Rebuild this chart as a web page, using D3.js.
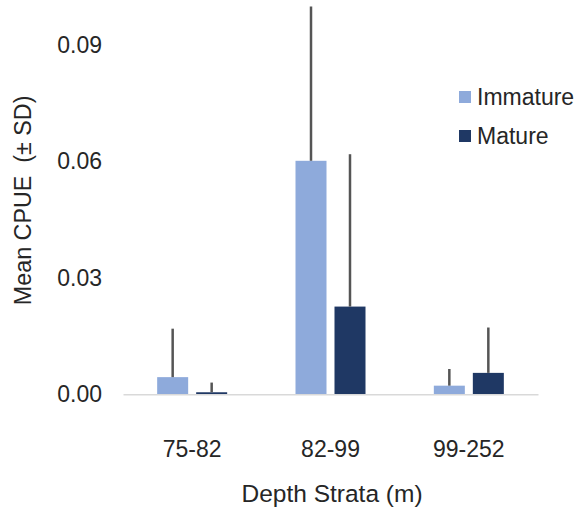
<!DOCTYPE html>
<html>
<head>
<meta charset="utf-8">
<script src="https://cdn.jsdelivr.net/npm/d3@7"></script>
<style>
  body { margin: 0; background: #fff; }
  svg text { font-family: "Liberation Sans", Arial, sans-serif; fill: #262626; }
</style>
</head>
<body>
<svg id="chart" width="577" height="507"></svg>
<script>
// depth strata and the two maturity groups
var strata = ["75-82", "82-99", "99-252"];
var series = ["Immature", "Mature"];
var immatureMean = [0.0044, 0.0602, 0.0022];
var immatureSD = [0.0125, 0.045, 0.0043];
var matureMean = [0.0005, 0.0226, 0.0055];
var matureSD = [0.0025, 0.0393, 0.0117];
var yTicks = [0, 0.03, 0.06, 0.09];

var colors = {Immature: "#8eaadb", Mature: "#1f3864"};

var rows = [];
strata.forEach(function(s, i){
    rows.push({stratum: s, series: "Immature", mean: immatureMean[i], sd: immatureSD[i]});
    rows.push({stratum: s, series: "Mature", mean: matureMean[i], sd: matureSD[i]});
});

var svg = d3.select("#chart");
// note: "top" is taken by window.top, so plot edges get their own names
var plotLeft = 123, plotRight = 538, plotTop = 6.5, plotBottom = 394.2;
var fontSize = 23;

var x = d3.scaleBand().domain(strata).range([plotLeft, plotRight])
    .paddingInner(0.494).paddingOuter(0.247);
var xSub = d3.scaleBand().domain(series).range([0, x.bandwidth()])
    .paddingInner(0.205);
var y = d3.scaleLinear().domain([0, 0.1]).range([plotBottom, plotTop]).clamp(true);

// y tick labels (no axis line)
var yAxis = svg.append("g")
    .attr("transform", "translate(" + plotLeft + ",0)")
    .call(d3.axisLeft(y).tickValues(yTicks).tickFormat(d3.format(".2f"))
        .tickSize(0).tickPadding(21));
yAxis.select(".domain").remove();
yAxis.selectAll("text").style("font-size", fontSize + "px");

// bars
svg.append("g").selectAll("rect").data(rows).enter().append("rect")
    .attr("x", function(d){ return x(d.stratum) + xSub(d.series); })
    .attr("width", xSub.bandwidth())
    .attr("y", function(d){ return y(d.mean); })
    .attr("height", function(d){ return y(0) - y(d.mean); })
    .attr("fill", function(d){ return colors[d.series]; });

// upper error bars only
svg.append("g").selectAll("line").data(rows).enter().append("line")
    .attr("x1", function(d){ return x(d.stratum) + xSub(d.series) + xSub.bandwidth()/2; })
    .attr("x2", function(d){ return x(d.stratum) + xSub(d.series) + xSub.bandwidth()/2; })
    .attr("y1", function(d){ return y(d.mean); })
    .attr("y2", function(d){ return y(d.mean + d.sd); })
    .attr("stroke", "#555555")
    .attr("stroke-width", 2.5);

// x axis
var xAxis = svg.append("g")
    .attr("transform", "translate(0," + plotBottom + ")")
    .call(d3.axisBottom(x).tickSize(0).tickPadding(46));
xAxis.select(".domain").attr("stroke", "#d9d9d9").attr("stroke-width", 1.5);
xAxis.selectAll("text").style("font-size", fontSize + "px");

// axis titles
svg.append("text")
    .attr("x", 332)
    .attr("y", 502)
    .attr("text-anchor", "middle")
    .style("font-size", "24.5px")
    .text("Depth Strata (m)");

svg.append("text")
    .attr("transform", "translate(31," + ((plotTop + plotBottom) / 2) + ") rotate(-90)")
    .attr("text-anchor", "middle")
    .style("font-size", "23.3px")
    .style("white-space", "pre")
    .text("Mean CPUE  (\u00b1 SD)");

// legend
var legend = svg.append("g").selectAll("g").data(series).enter().append("g")
    .attr("transform", function(d, i){ return "translate(459," + (91 + i * 39) + ")"; });
legend.append("rect")
    .attr("width", 12).attr("height", 12)
    .attr("fill", function(d){ return colors[d]; });
legend.append("text")
    .attr("x", 18).attr("y", 14)
    .style("font-size", fontSize + "px")
    .text(function(d){ return d; });
</script>
</body>
</html>
